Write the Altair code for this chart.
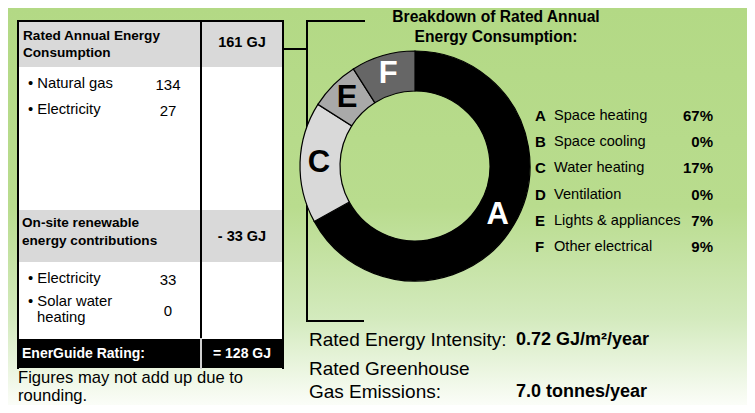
import altair as alt
import pandas as pd

# ---------------- data ----------------
consumption_title = ["Rated Annual Energy", "Consumption"]
consumption_total = "161 GJ"
consumption_items = ["Natural gas", "Electricity"]
consumption_values = ["134", "27"]

renewable_title = ["On-site renewable", "energy contributions"]
renewable_total = "- 33 GJ"
renewable_items = ["Electricity", "Solar water"]
renewable_item2_cont = "heating"
renewable_values = ["33", "0"]

rating_label = "EnerGuide Rating:"
rating_value = "= 128 GJ"
footnote = ["Figures may not add up due to", "rounding."]

breakdown_title = ["Breakdown of Rated Annual", "Energy Consumption:"]
letters = ["A", "B", "C", "D", "E", "F"]
uses = ["Space heating", "Space cooling", "Water heating", "Ventilation",
        "Lights & appliances", "Other electrical"]
shares = [67, 0, 17, 0, 7, 9]

intensity_label = "Rated Energy Intensity:"
intensity_value = "0.72 GJ/m²/year"
ghg_label = ["Rated Greenhouse", "Gas Emissions:"]
ghg_value = "7.0 tonnes/year"

# ---------------- layout ----------------
W, H = 739, 397
OX, OY = 8, 8
FONT = "'Liberation Sans Narrow', 'Arial Narrow', 'Liberation Sans', Arial, sans-serif"
SEG_COLORS = ["#000000", "#ffffff", "#d9d9d9", "#ffffff", "#a9a9a9", "#666666"]

XS = alt.Scale(domain=[0, W], range=[0, W], nice=False, zero=False)
YS = alt.Scale(domain=[0, H], reverse=True, nice=False, zero=False)


def X(f):
    return alt.X(f, scale=XS, axis=None)


def Y(f):
    return alt.Y(f, scale=YS, axis=None)


def rects(rows, fill):
    df = pd.DataFrame(rows, columns=["x", "x2", "y", "y2"])
    df[["x", "x2"]] -= OX
    df[["y", "y2"]] -= OY
    return alt.Chart(df).mark_rect(fill=fill).encode(
        x=X("x:Q"), x2="x2:Q", y=Y("y:Q"), y2="y2:Q")


def rules(rows, color="black", sw=2):
    df = pd.DataFrame(rows, columns=["x", "x2", "y", "y2"])
    df[["x", "x2"]] -= OX
    df[["y", "y2"]] -= OY
    return alt.Chart(df).mark_rule(color=color, strokeWidth=sw, strokeCap="square").encode(
        x=X("x:Q"), x2="x2:Q", y=Y("y:Q"), y2="y2:Q")


def texts(rows, size, weight="normal", color="black", align="left"):
    df = pd.DataFrame(rows, columns=["x", "y", "t"])
    df["x"] -= OX
    df["y"] -= OY
    return alt.Chart(df).mark_text(
        align=align, baseline="middle", fontSize=size, fontWeight=weight,
        color=color, font=FONT).encode(x=X("x:Q"), y=Y("y:Q"), text="t:N")


bg = alt.Chart(pd.DataFrame({"x": [0], "x2": [W], "y": [0], "y2": [H]})).mark_rect(
    fill=alt.Gradient(
        gradient="linear",
        stops=[alt.GradientStop(color="#b3d985", offset=0),
               alt.GradientStop(color="#b9dc8e", offset=0.5),
               alt.GradientStop(color="#d3eabd", offset=0.78),
               alt.GradientStop(color="#fbfdf8", offset=1)],
        x1=0, x2=0, y1=0, y2=1)
).encode(x=X("x:Q"), x2="x2:Q", y=Y("y:Q"), y2="y2:Q")

# table
TL, TR, TD = 18, 283, 201
table_body = rects([(TL, TR, 21, 368)], "white")
gray_bands = rects([(TL, TR, 21, 67), (TL, TR, 210, 262)], "#d9d9d9")
black_band = rects([(TL, TR, 339, 368)], "black")
table_lines = rules([
    (TL, TL, 21, 368), (TR, TR, 21, 368), (TL, TR, 21, 21), (TD, TD, 21, 339),
    (TR, 307, 49, 49), (307, 307, 21, 321), (307, 364, 21, 21), (307, 363, 321, 321),
])
divider_light = rules([(TD, TD, 339, 368)], color="#d0d0d0", sw=2)

# text
t_head = texts([(23, 36, consumption_title[0]), (23, 53, consumption_title[1]),
                (22, 223, renewable_title[0]), (22, 241, renewable_title[1])],
               13.6, weight="bold")
t_tot = texts([(242, 43, consumption_total), (242, 237, renewable_total)],
              14.5, weight="bold", align="center")
t_items = texts([(28, 84, "• " + consumption_items[0]), (28, 110, "• " + consumption_items[1]),
                 (28, 279, "• " + renewable_items[0]), (28, 302, "• " + renewable_items[1]),
                 (37, 318, renewable_item2_cont)], 14.8)
t_vals = texts([(168, 85, consumption_values[0]), (168, 111, consumption_values[1]),
                (168, 280, renewable_values[0]), (168, 311, renewable_values[1])],
               15, align="center")
t_rating = texts([(22, 354, rating_label)], 14, weight="bold", color="white") + \
    texts([(242, 354, rating_value)], 14, weight="bold", color="white", align="center")
t_foot = texts([(18, 378, footnote[0]), (18, 396, footnote[1])], 16.6)

t_title = texts([(496, 17, breakdown_title[0]), (496, 37, breakdown_title[1])], 15.6,
                weight="bold", align="center")

row_y = [116, 142, 168, 195, 221, 247]
t_leg_letter = texts([(535, y, l) for y, l in zip(row_y, letters)], 15, weight="bold")
t_leg_use = texts([(554, y, u) for y, u in zip(row_y, uses)], 14.6)
t_leg_pct = texts([(713, y, f"{s}%") for y, s in zip(row_y, shares)], 15,
                  weight="bold", align="right")

t_bottom = texts([(309, 340, intensity_label), (309, 369, ghg_label[0]),
                  (309, 392, ghg_label[1])], 19)
t_bottom_v = texts([(516, 340, intensity_value), (516, 392, ghg_value)], 18, weight="bold")

# donut
CX, CY = 415 - OX, 166 - OY
donut_df = pd.DataFrame({"letter": letters, "share": shares, "idx": range(len(letters))})
base = alt.Chart(donut_df).transform_filter("datum.share > 0")
donut = base.mark_arc(innerRadius=75, outerRadius=115, stroke="black", strokeWidth=1.2).encode(
    theta=alt.Theta("share:Q", stack=True),
    color=alt.Color("letter:N", scale=alt.Scale(domain=letters, range=SEG_COLORS), legend=None),
    order=alt.Order("idx:Q"),
    x=alt.value(CX), y=alt.value(CY),
)
donut_lbl = base.mark_text(radius=96, fontSize=31, fontWeight="bold", font=FONT).encode(
    theta=alt.Theta("share:Q", stack=True),
    order=alt.Order("idx:Q"),
    detail="letter:N",
    text="letter:N",
    color=alt.condition("datum.letter == 'A' || datum.letter == 'F'",
                        alt.value("white"), alt.value("black")),
    x=alt.value(CX), y=alt.value(CY),
)

chart = alt.layer(
    bg, table_body, gray_bands, black_band, table_lines, divider_light,
    t_head, t_tot, t_items, t_vals, t_rating, t_foot, t_title,
    t_leg_letter, t_leg_use, t_leg_pct, t_bottom, t_bottom_v,
    donut, donut_lbl,
).properties(width=W, height=H, padding=0, autosize=alt.AutoSizeParams(type="none")
).configure_view(stroke=None).configure(background="white")

chart.save("out.html", embed_options={"renderer": "svg", "actions": False})
